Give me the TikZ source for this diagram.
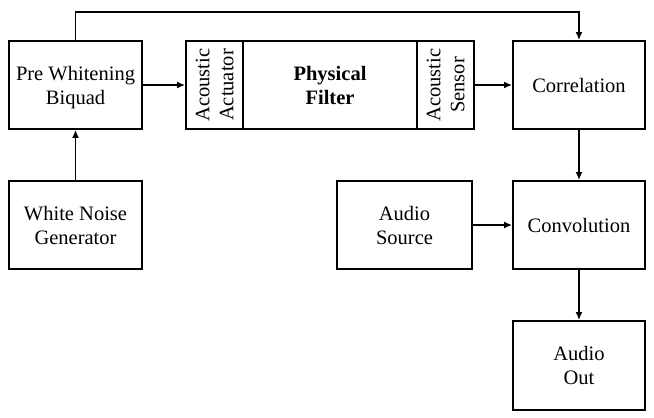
\documentclass[tikz,border=0pt]{standalone}
\usepackage{fontspec}
\setmainfont{Liberation Serif}
\usetikzlibrary{arrows.meta}
\begin{document}
\begin{tikzpicture}[x=1pt,y=-1pt,
  blk/.style={draw,line width=1.8pt,minimum width=133pt,minimum height=88pt,inner sep=0pt,align=center,text depth=-3pt,font=\fontsize{20.5}{24}\selectfont},
  vblk/.style={blk,rotate=90,minimum width=88pt,minimum height=57pt,text depth=0pt},
  conn/.style={line width=1.8pt,-{Latex[length=8pt,width=7pt]}}]
\useasboundingbox (0,0) rectangle (654,418);
\node[blk] (pre) at (75.5,85) {Pre Whitening\\Biquad};
\node[vblk] (act) at (214.5,85) {Acoustic\\Actuator};
\node[blk,minimum width=174pt,font=\fontsize{20.5}{24}\selectfont\bfseries] (phys) at (330,85) {Physical\\Filter};
\node[vblk] (sen) at (445.5,85) {Acoustic\\Sensor};
\node[blk,minimum width=132pt] (cor) at (579,85) {Correlation};
\node[blk] (wn) at (75.5,225) {White Noise\\Generator};
\node[blk,minimum width=135pt] (src) at (404.5,225) {Audio\\Source};
\node[blk,minimum width=132pt] (conv) at (579,225) {Convolution};
\node[blk,minimum width=132pt,minimum height=89pt] (out) at (579,365.5) {Audio\\Out};
\coordinate (tl) at (75.5,12);
\coordinate (tr) at (579,12);
\draw[conn] (pre.east) -- (act.north);
\draw[conn] (sen.south) -- (cor.west);
\draw[conn] (wn.north) -- (pre.south);
\draw[conn] (pre.north) -- (tl) -- (tr) -- (cor.north);
\draw[conn] (cor.south) -- (conv.north);
\draw[conn] (src.east) -- (conv.west);
\draw[conn] (conv.south) -- (out.north);
\end{tikzpicture}
\end{document}
